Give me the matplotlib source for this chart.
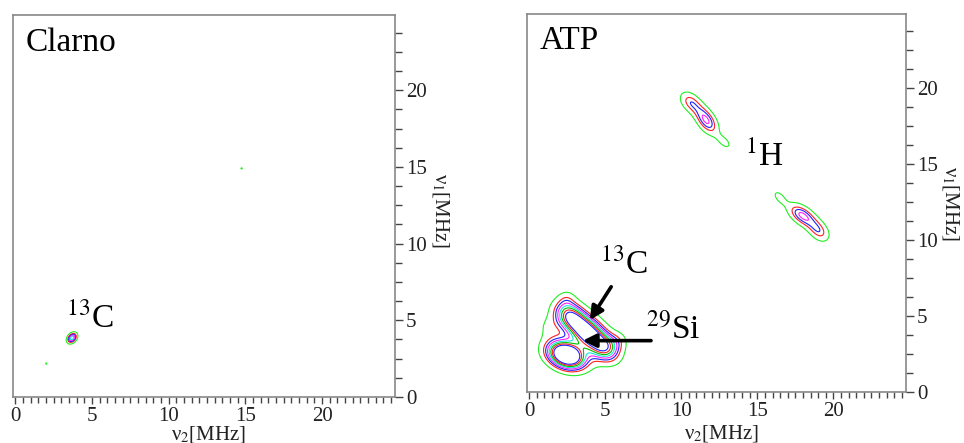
import numpy as np
import matplotlib
matplotlib.use('Agg')
import matplotlib.pyplot as plt
from matplotlib.ticker import MultipleLocator

plt.rcParams['font.family'] = ['Liberation Serif', 'DejaVu Serif']
plt.rcParams['mathtext.fontset'] = 'stix'

# --- peaks: centre, amplitude, widths (along / across), angle (deg)
# Clarno sample: 13C ring plus two faint specks
clarno_x = [3.70, 2.02, 14.75]
clarno_y = [3.85, 2.18, 14.90]
clarno_amp = [1.45, 0.40, 0.40]
clarno_sl = [0.27, 0.08, 0.08]
clarno_ss = [0.19, 0.08, 0.08]
clarno_ang = [50, 0, 0]

# ATP sample: 1H pair (body, end, tail each), 13C ridge (3 parts),
# 29Si lobe, broad base, edge bumps
atp_x = [11.65, 10.6, 12.85, 17.95, 19.05, 16.45,
         2.69, 3.8, 4.91, 2.45, 3.4, 1.3, 2.5, 5.9]
atp_y = [17.9, 19.1, 16.45, 11.65, 10.6, 12.85,
         5.0, 4.0, 3.0, 2.45, 3.8, 4.3, 6.2, 3.4]
atp_amp = [1.15, 0.78, 0.45, 1.15, 0.78, 0.45,
           1.7, 1.7, 1.7, 2.8, 0.25, 0.3, 0.3, 0.35]
atp_sl = [0.75, 0.6, 0.45, 0.75, 0.6, 0.45,
          0.8, 0.8, 0.8, 0.9, 1.5, 0.55, 0.4, 0.45]
atp_ss = [0.40, 0.40, 0.25, 0.40, 0.40, 0.25,
          0.6, 0.6, 0.6, 0.6, 1.5, 0.55, 0.4, 0.45]
atp_ang = [-55, -45, -42, -35, -45, -48,
           -42, -42, -42, -20, 0, 0, 0, 0]

levels = [0.35, 0.7, 0.9, 1.1, 1.3, 1.5, 1.7, 1.9]
level_colors = ['#22ee22', '#ff2020', '#2020ff', '#ff20ff', '#20e0e0',
                '#00c000', '#ff2020', '#2020ff']


def field(X, Y, xs, ys, amps, sls, sss, angs):
    Z = np.zeros_like(X)
    for x0, y0, a, sl, ss, ang in zip(xs, ys, amps, sls, sss, angs):
        t = np.deg2rad(ang)
        u = (X - x0) * np.cos(t) + (Y - y0) * np.sin(t)
        v = -(X - x0) * np.sin(t) + (Y - y0) * np.cos(t)
        Z += a * np.exp(-0.5 * (u / sl) ** 2 - 0.5 * (v / ss) ** 2)
    return Z


g = np.linspace(0, 25, 1000)
X, Y = np.meshgrid(g, g)

fig = plt.figure(figsize=(9.64, 4.43), dpi=100)
ax1 = fig.add_axes([13 / 964, 1 - 397 / 443, 382 / 964, 382 / 443])
ax2 = fig.add_axes([526.7 / 964, 1 - 392.3 / 443, 379 / 964, 378.3 / 443])

panels = [
    (ax1, field(X, Y, clarno_x, clarno_y, clarno_amp, clarno_sl, clarno_ss, clarno_ang), 'Clarno'),
    (ax2, field(X, Y, atp_x, atp_y, atp_amp, atp_sl, atp_ss, atp_ang), 'ATP'),
]

for ax, Z, name in panels:
    ax.contour(X, Y, Z, levels=levels, colors=level_colors, linewidths=0.8)
    ax.set_xlim(-0.15, 24.75)
    ax.set_ylim(0, 24.9)
    for s in ax.spines.values():
        s.set_color('#888888')
        s.set_linewidth(1.2)
    ax.xaxis.set_major_locator(MultipleLocator(5))
    ax.xaxis.set_minor_locator(MultipleLocator(0.5))
    ax.yaxis.set_major_locator(MultipleLocator(5))
    ax.yaxis.set_minor_locator(MultipleLocator(1.25))
    ax.yaxis.tick_right()
    ax.tick_params(axis='both', which='both', direction='out', color='#444444',
                   labelcolor='#222222', labelsize=15, width=1, pad=2)
    ax.tick_params(axis='x', which='major', length=5)
    ax.tick_params(axis='x', which='minor', length=4)
    ax.tick_params(axis='y', which='major', length=6)
    ax.tick_params(axis='y', which='minor', length=5)
    ax.text(0.033, 0.907, name, transform=ax.transAxes, fontsize=24, va='baseline')

ax1.text(0.513, -0.07, 'ν$_2$[MHz]', transform=ax1.transAxes, fontsize=15,
         ha='center', va='top', color='#222222')
ax2.text(0.513, -0.08, 'ν$_2$[MHz]', transform=ax2.transAxes, fontsize=15,
         ha='center', va='top', color='#222222')
ax1.text(1.12, 0.487, 'ν$_1$[MHz]', transform=ax1.transAxes, fontsize=15,
         rotation=270, ha='center', va='center', color='#222222')
ax2.text(1.117, 0.498, 'ν$_1$[MHz]', transform=ax2.transAxes, fontsize=15,
         rotation=270, ha='center', va='center', color='#222222')

# peak labels
ax1.text(3.3, 4.5, '$^{13}$C', fontsize=24, va='baseline')
ax2.text(4.65, 7.8, '$^{13}$C', fontsize=24, va='baseline')
ax2.text(7.7, 3.55, '$^{29}$Si', fontsize=24, va='baseline')
ax2.text(14.2, 14.9, '$^{1}$H', fontsize=24, va='baseline')

arrow = dict(arrowstyle='-|>', color='black', lw=2.6, mutation_scale=20)
ax2.annotate('', xy=(3.9, 4.6), xytext=(5.5, 7.1), arrowprops=arrow)
ax2.annotate('', xy=(3.35, 3.4), xytext=(8.2, 3.4), arrowprops=arrow)

fig.savefig('out.png', dpi=100)
